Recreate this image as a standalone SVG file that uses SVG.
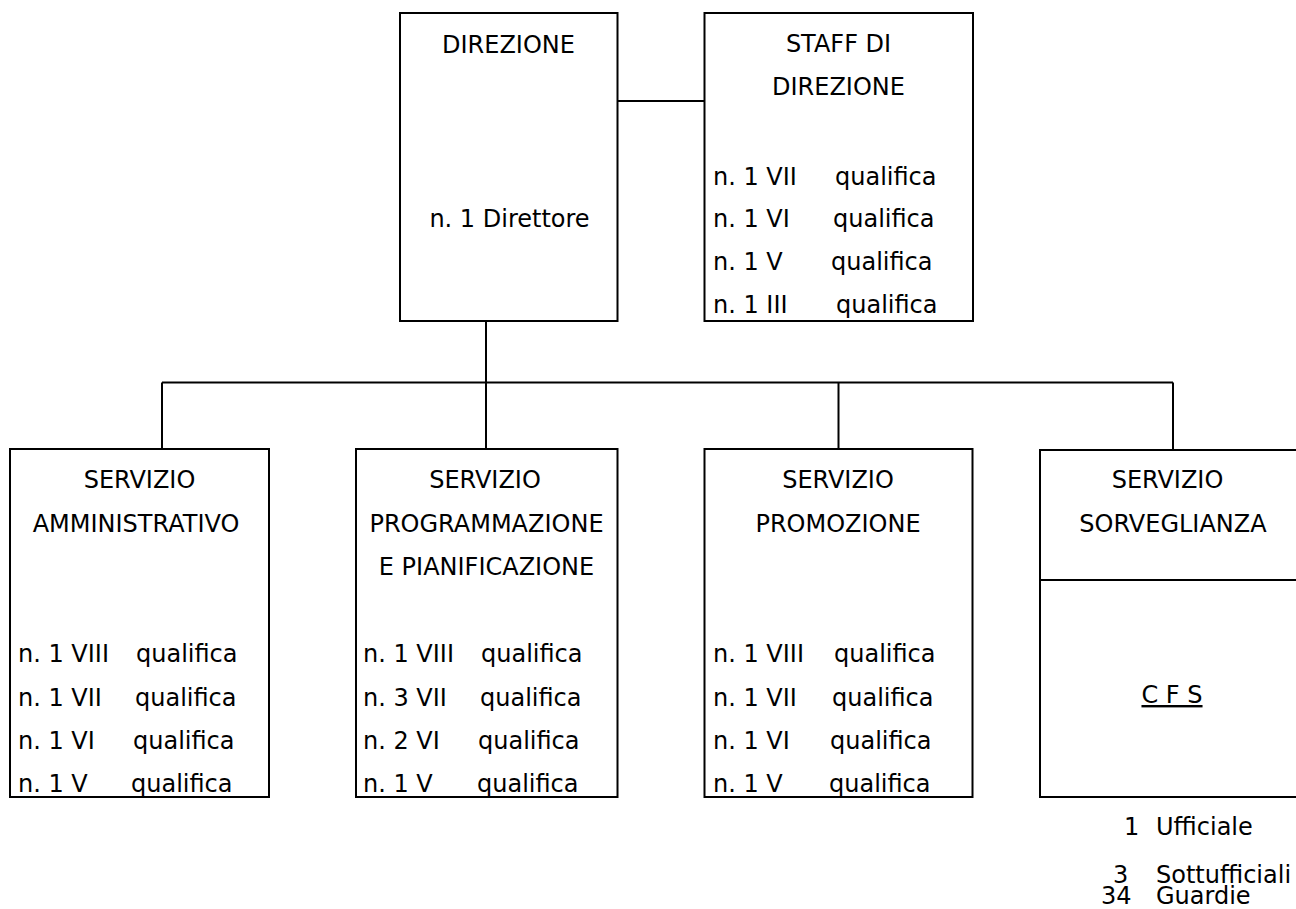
<svg xmlns="http://www.w3.org/2000/svg" width="1296" height="909" viewBox="0 0 1296 909">
<style>
text{font-family:"DejaVu Sans","Verdana","Liberation Sans",sans-serif;font-size:24px;fill:#000}
.c{text-anchor:middle}
.box{fill:#fff;stroke:#000;stroke-width:2}
.ln{stroke:#000;stroke-width:2;fill:none}
</style>
<rect x="0" y="0" width="1296" height="909" fill="#fff"/>
<g id="connectors">
<line class="ln" x1="617.5" y1="101" x2="705" y2="101"/>
<line class="ln" x1="486" y1="321" x2="486" y2="382.5"/>
<line class="ln" x1="162" y1="382.5" x2="1173" y2="382.5"/>
<line class="ln" x1="162" y1="382.5" x2="162" y2="449"/>
<line class="ln" x1="486" y1="382.5" x2="486" y2="449"/>
<line class="ln" x1="838.5" y1="382.5" x2="838.5" y2="449"/>
<line class="ln" x1="1173" y1="382.5" x2="1173" y2="449"/>
</g>
<g id="direzione">
<rect class="box" x="400" y="13" width="217.5" height="308"/>
<text class="c" x="508.5" y="53">DIREZIONE</text>
<text class="c" x="509.5" y="227">n. 1 Direttore</text>
</g>
<g id="staff">
<rect class="box" x="704.5" y="13" width="268.5" height="308"/>
<text class="c" x="838.5" y="52">STAFF DI</text>
<text class="c" x="838.5" y="95">DIREZIONE</text>
<text x="713" y="185">n. 1 VII</text><text x="835" y="185">qualifica</text>
<text x="713" y="227">n. 1 VI</text><text x="833" y="227">qualifica</text>
<text x="713" y="270">n. 1 V</text><text x="831" y="270">qualifica</text>
<text x="713" y="313">n. 1 III</text><text x="836" y="313">qualifica</text>
</g>
<g id="amministrativo">
<rect class="box" x="10" y="449" width="259" height="348"/>
<text class="c" x="139.5" y="488">SERVIZIO</text>
<text class="c" x="136" y="532">AMMINISTRATIVO</text>
<text x="18" y="662">n. 1 VIII</text><text x="136" y="662">qualifica</text>
<text x="18" y="706">n. 1 VII</text><text x="135" y="706">qualifica</text>
<text x="18" y="749">n. 1 VI</text><text x="133" y="749">qualifica</text>
<text x="18" y="792">n. 1 V</text><text x="131" y="792">qualifica</text>
</g>
<g id="programmazione">
<rect class="box" x="356" y="449" width="261.5" height="348"/>
<text class="c" x="485" y="488">SERVIZIO</text>
<text class="c" x="486.5" y="532">PROGRAMMAZIONE</text>
<text class="c" x="486.5" y="575">E PIANIFICAZIONE</text>
<text x="363" y="662">n. 1 VIII</text><text x="481" y="662">qualifica</text>
<text x="363" y="706">n. 3 VII</text><text x="480" y="706">qualifica</text>
<text x="363" y="749">n. 2 VI</text><text x="478" y="749">qualifica</text>
<text x="363" y="792">n. 1 V</text><text x="477" y="792">qualifica</text>
</g>
<g id="promozione">
<rect class="box" x="704.5" y="449" width="268" height="348"/>
<text class="c" x="838" y="488">SERVIZIO</text>
<text class="c" x="838" y="532">PROMOZIONE</text>
<text x="713" y="662">n. 1 VIII</text><text x="834" y="662">qualifica</text>
<text x="713" y="706">n. 1 VII</text><text x="832" y="706">qualifica</text>
<text x="713" y="749">n. 1 VI</text><text x="830" y="749">qualifica</text>
<text x="713" y="792">n. 1 V</text><text x="829" y="792">qualifica</text>
</g>
<g id="sorveglianza">
<rect class="box" x="1040" y="450" width="280" height="347"/>
<line class="ln" x1="1040" y1="580" x2="1300" y2="580"/>
<text class="c" x="1167.5" y="488">SERVIZIO</text>
<text class="c" x="1173" y="532">SORVEGLIANZA</text>
<text class="c" x="1172" y="703" text-decoration="underline">C F S</text>
</g>
<g id="cfs-personale">
<text x="1124" y="835">1</text><text x="1156" y="835">Ufficiale</text>
<text x="1113" y="883">3</text><text x="1156" y="883">Sottufficiali</text>
<text x="1101" y="904">34</text><text x="1156" y="904">Guardie</text>
</g>
</svg>
